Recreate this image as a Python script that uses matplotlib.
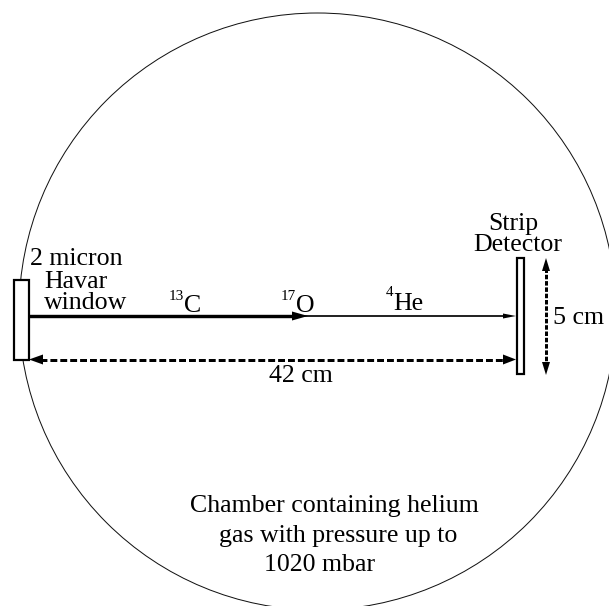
import matplotlib
matplotlib.use("Agg")
import matplotlib.pyplot as plt
from matplotlib.patches import Circle, Rectangle, Polygon

FONT = "Liberation Serif"
W, H = 609, 608

chamber = (317.5, 311.5, 298.5)
window = (14, 279.5, 15, 80)
detector = (516.5, 258, 7.5, 116)
beam_y = 316
c_beam = (29, 295)
o_head = (292, 308)
he_beam = (304, 505)
he_head = (503, 516)
span_y = 359.5
span_x = (40, 506)
height_x = 546
height_y = (268, 364)

FS = 18.6
labels = [
    ("2 micron", 30, 265, FS),
    ("Havar", 44, 287.5, FS),
    ("window", 44, 309, FS),
    ("C", 184, 311.5, FS),
    ("O", 296, 311.5, FS),
    ("He", 393, 310.5, FS),
    ("Strip", 488, 230, FS),
    ("Detector", 473, 251, FS),
    ("5 cm", 553, 323.5, FS),
    ("42 cm", 269, 382, FS),
    ("Chamber containing helium", 190, 512, FS),
    ("gas with pressure up to", 219, 542, FS),
    ("1020 mbar", 264, 571, FS),
]
supers = [("13", 169, 300, 11), ("17", 281, 300, 11), ("4", 386, 296, 11)]

fig = plt.figure(figsize=(W / 100, H / 100), dpi=100)
ax = fig.add_axes([0, 0, 1, 1])
ax.set_xlim(0, W)
ax.set_ylim(H, 0)
ax.axis("off")
px = 0.72

clip = Rectangle((0, 0), W, 606, transform=ax.transData)
circ = Circle(chamber[:2], chamber[2], fill=False, ec="#111111", lw=1.0 * px)
ax.add_patch(circ)
circ.set_clip_path(clip)

ax.add_patch(Rectangle(window[:2], window[2], window[3], fc="white", ec="black", lw=2.2 * px, zorder=3))
ax.add_patch(Rectangle(detector[:2], detector[2], detector[3], fc="white", ec="black", lw=2.2 * px, zorder=3))

ax.plot(c_beam, [beam_y, beam_y], color="black", lw=3.4 * px, solid_capstyle="butt")
ax.add_patch(Polygon([(o_head[0], beam_y - 4.5), (o_head[1], beam_y), (o_head[0], beam_y + 4.5)], fc="black", ec="none"))
ax.plot(he_beam, [beam_y, beam_y], color="black", lw=1.7 * px, solid_capstyle="butt")
ax.add_patch(Polygon([(he_head[0], beam_y - 2.5), (he_head[1], beam_y), (he_head[0], beam_y + 2.5)], fc="black", ec="none"))

dash_h = (0, (2.3, 1.0))
dash_v = (0, (1.5, 0.6))
ax.plot(span_x, [span_y, span_y], color="black", lw=3 * px, ls=dash_h, dash_capstyle="butt")
ax.add_patch(Polygon([(43, span_y - 5), (29, span_y), (43, span_y + 5)], fc="black", ec="none", zorder=4))
ax.add_patch(Polygon([(503, span_y - 5), (516, span_y), (503, span_y + 5)], fc="black", ec="none", zorder=4))
ax.plot([height_x, height_x], height_y, color="black", lw=3 * px, ls=dash_v, dash_capstyle="butt")
ax.add_patch(Polygon([(height_x - 4, 271), (height_x, 258), (height_x + 4, 271)], fc="black", ec="none", zorder=4))
ax.add_patch(Polygon([(height_x - 4, 362), (height_x, 375), (height_x + 4, 362)], fc="black", ec="none", zorder=4))

for s, x, y, fs in labels + supers:
    ax.text(x, y, s, family=FONT, fontsize=fs, ha="left", va="baseline", color="black", zorder=5)

fig.savefig("out.png", dpi=100, facecolor="white")
